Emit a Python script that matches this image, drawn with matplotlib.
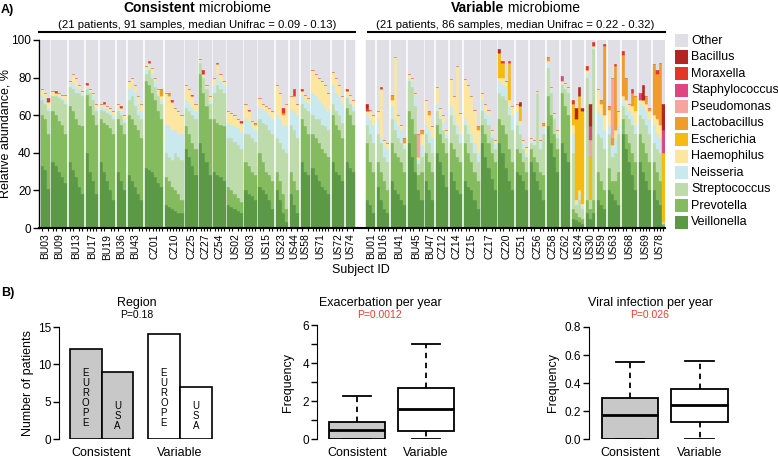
import matplotlib
matplotlib.use("Agg")
import matplotlib.pyplot as plt
from matplotlib.patches import Rectangle
from matplotlib.lines import Line2D
from matplotlib.transforms import blended_transform_factory
import numpy as np

plt.rcParams["font.family"] = ["Liberation Sans", "DejaVu Sans"]

# ---------------- data: panel A (relative abundance per sample, %) ----------------
consistent_ids = ["BU03", "BU09", "BU13", "BU17", "BU19", "BU36", "BU43", "CZ01", "CZ10", "CZ25", "CZ27",
                  "CZ54", "US02", "US03", "US15", "US23", "US44", "US58", "US71", "US72", "US74"]
variable_ids = ["BU01", "BU16", "BU41", "BU45", "BU47", "CZ12", "CZ14", "CZ15", "CZ17", "CZ20", "CZ51",
                "CZ56", "CZ58", "CZ62", "US24", "US30", "US59", "US63", "US68", "US69", "US78"]

veillonella = {
    "BU03": [33, 31, 21], "BU09": [35, 33, 30, 27, 24], "BU13": [35, 31, 27, 22, 18], "BU17": [40, 30, 25, 18],
    "BU19": [35, 30, 25, 20, 15], "BU36": [30, 25, 20], "BU43": [28, 25, 22, 18, 15], "CZ01": [32, 31, 30, 27, 24, 22],
    "CZ10": [12, 11, 10, 9, 8, 8], "CZ25": [42, 38, 33, 28], "CZ27": [45, 40, 35, 28], "CZ54": [30, 28, 27, 25],
    "US02": [12, 11, 10, 9, 8], "US03": [20, 18, 17, 15], "US15": [22, 20, 18, 15, 10], "US23": [20, 15, 8, 3],
    "US44": [18, 12, 8], "US58": [35, 30, 28], "US71": [32, 28, 25, 22, 20, 18], "US72": [35, 30, 28, 25],
    "US74": [35, 32, 30],
    "BU01": [15, 12, 8], "BU16": [22, 15, 10, 8], "BU41": [25, 20, 18, 15, 12], "BU45": [45, 38, 30, 20, 15],
    "BU47": [25, 20, 15], "CZ12": [40, 35, 28, 22], "CZ14": [30, 25, 20, 18], "CZ15": [25, 22, 20, 15, 10],
    "CZ17": [45, 38, 32, 26, 20], "CZ20": [45, 40, 32, 25, 20], "CZ51": [30, 28, 25, 20], "CZ56": [35, 30, 25, 20, 15],
    "CZ58": [54, 45, 38, 30], "CZ62": [45, 40, 35], "US24": [5, 4, 3, 2], "US30": [8, 5, 8], "US59": [15, 12, 10],
    "US63": [20, 18, 15, 12], "US68": [50, 42, 35, 28, 20], "US69": [35, 30, 25, 20], "US78": [20, 15, 12, 1],
}
prevotella = {
    "BU03": [27, 27, 29], "BU09": [27, 27, 27, 28, 26], "BU13": [30, 31, 31, 33, 36], "BU17": [31, 35, 35, 37],
    "BU19": [23, 26, 30, 33, 35], "BU36": [28, 30, 30], "BU43": [32, 33, 33, 34, 33], "CZ01": [46, 45, 42, 41, 38, 36],
    "CZ10": [15, 14, 12, 11, 10, 7], "CZ25": [12, 12, 12, 14], "CZ27": [37, 32, 30, 30], "CZ54": [28, 28, 28, 29],
    "US02": [10, 9, 8, 7, 6], "US03": [15, 15, 13, 13], "US15": [18, 15, 12, 13, 15], "US23": [10, 10, 10, 7],
    "US44": [12, 13, 12], "US58": [23, 24, 22], "US71": [18, 20, 20, 20, 20, 20], "US72": [25, 25, 24, 23],
    "US74": [29, 28, 25],
    "BU01": [30, 23, 22], "BU16": [13, 15, 15, 12], "BU41": [20, 20, 20, 20, 18], "BU45": [17, 20, 20, 8, 15],
    "BU47": [15, 15, 15], "CZ12": [15, 15, 17, 18], "CZ14": [15, 17, 18, 17], "CZ15": [20, 18, 15, 15, 15],
    "CZ17": [10, 12, 13, 14, 15], "CZ20": [13, 15, 18, 17, 15], "CZ51": [12, 12, 10, 10], "CZ56": [7, 8, 10, 10, 13],
    "CZ58": [16, 15, 12, 12], "CZ62": [27, 25, 25], "US24": [5, 4, 3, 3], "US30": [7, 5, 7], "US59": [15, 13, 10],
    "US63": [12, 7, 10, 18], "US68": [8, 8, 10, 12, 15], "US69": [15, 15, 15, 15], "US78": [15, 15, 13, 1],
}
streptococcus = {
    "BU03": [8, 8, 12], "BU09": [8, 10, 12, 13, 16], "BU13": [10, 12, 14, 17, 16], "BU17": [3, 7, 8, 7],
    "BU19": [5, 6, 6, 7, 8], "BU36": [4, 5, 6], "BU43": [8, 12, 10, 8, 10], "CZ01": [4, 8, 8, 7, 8, 8],
    "CZ10": [13, 13, 14, 20, 20, 21], "CZ25": [10, 12, 15, 16], "CZ27": [6, 8, 9, 8], "CZ54": [14, 20, 19, 18],
    "US02": [26, 28, 28, 28, 28], "US03": [15, 17, 18, 18], "US15": [18, 21, 25, 24, 25], "US23": [18, 20, 24, 30],
    "US44": [25, 27, 28], "US58": [8, 10, 12], "US71": [10, 10, 13, 13, 14, 14], "US72": [6, 7, 8, 8],
    "US74": [5, 6, 7],
    "BU01": [10, 15, 15], "BU16": [15, 15, 13, 15], "BU41": [13, 12, 10, 10, 12], "BU45": [16, 17, 15, 6, 8],
    "BU47": [10, 10, 10], "CZ12": [7, 8, 7, 8], "CZ14": [15, 13, 12, 10], "CZ15": [10, 10, 10, 10, 10],
    "CZ17": [7, 8, 10, 8, 7], "CZ20": [14, 15, 18, 18, 17], "CZ51": [13, 10, 7, 8], "CZ56": [3, 6, 37, 12, 22],
    "CZ58": [15, 12, 8, 6], "CZ62": [4, 9, 12], "US24": [30, 4, 9, 5], "US30": [65, 5, 80], "US59": [20, 23, 22],
    "US63": [18, 13, 15, 20], "US68": [7, 10, 13, 15, 15], "US69": [10, 13, 15, 15], "US78": [10, 12, 15, 1],
}
neisseria = {
    "BU03": [3, 3, 2], "BU09": [1, 1, 1, 1, 2], "BU13": [2, 3, 3, 2, 2], "BU17": [1, 1, 2, 2],
    "BU19": [2, 2, 2, 2, 2], "BU36": [2, 2, 2], "BU43": [6, 6, 7, 6, 4], "CZ01": [2, 2, 2, 3, 2, 2],
    "CZ10": [15, 17, 16, 12, 12, 14], "CZ25": [4, 4, 4, 4], "CZ27": [1, 1, 1, 2], "CZ54": [4, 6, 4, 4],
    "US02": [8, 7, 8, 9, 9], "US03": [8, 7, 6, 6], "US15": [6, 7, 7, 8, 8], "US23": [12, 13, 13, 14],
    "US44": [8, 10, 12], "US58": [4, 4, 4], "US71": [12, 12, 10, 11, 10, 10], "US72": [10, 10, 10, 10],
    "US74": [2, 2, 3],
    "BU01": [5, 8, 10], "BU16": [8, 3, 6, 7], "BU41": [7, 6, 7, 7, 2], "BU45": [2, 3, 5, 2, 6],
    "BU47": [5, 7, 8], "CZ12": [4, 2, 4, 2], "CZ14": [5, 5, 5, 5], "CZ15": [3, 5, 5, 5, 5],
    "CZ17": [6, 4, 5, 2, 3], "CZ20": [6, 6, 7, 5, 8], "CZ51": [7, 5, 3, 2], "CZ56": [2, 2, 0, 4, 3],
    "CZ58": [3, 2, 2, 2], "CZ62": [1, 2, 2], "US24": [10, 2, 3, 2], "US30": [2, 0, 1], "US59": [12, 12, 10],
    "US63": [5, 6, 8, 5], "US68": [3, 5, 4, 5, 5], "US69": [6, 7, 7, 8], "US78": [10, 8, 8, 0],
}
haemophilus = {
    "BU03": [3, 3, 3], "BU09": [2, 1, 2, 2, 3], "BU13": [1, 5, 5, 2, 1], "BU17": [1, 1, 2, 2],
    "BU19": [1, 2, 2, 2, 2], "BU36": [2, 2, 2], "BU43": [4, 4, 4, 4, 4], "CZ01": [2, 2, 3, 2, 2, 2],
    "CZ10": [17, 15, 15, 12, 12, 10], "CZ25": [8, 8, 6, 4], "CZ27": [1, 1, 1, 2], "CZ54": [4, 5, 4, 2],
    "US02": [6, 6, 6, 5, 5], "US03": [8, 5, 3, 3], "US15": [5, 3, 3, 4, 4], "US23": [16, 14, 5, 12],
    "US44": [7, 8, 6], "US58": [3, 3, 3], "US71": [12, 12, 12, 12, 12, 10], "US72": [7, 8, 6, 4],
    "US74": [2, 3, 3],
    "BU01": [2, 4, 5], "BU16": [4, 26, 3, 3], "BU41": [3, 33, 5, 3, 1], "BU45": [2, 2, 2, 2, 6],
    "BU47": [13, 8, 6], "CZ12": [9, 4, 4, 2], "CZ14": [14, 10, 31, 11], "CZ15": [21, 21, 20, 18, 12],
    "CZ17": [4, 4, 3, 2, 2], "CZ20": [2, 4, 3, 3, 5], "CZ51": [4, 2, 2, 3], "CZ56": [1, 1, 1, 1, 1],
    "CZ58": [1, 1, 1, 2], "CZ62": [1, 1, 1], "US24": [5, 1, 2, 1], "US30": [2, 0, 1], "US59": [12, 6, 8],
    "US63": [8, 0, 4, 7], "US68": [2, 3, 4, 5, 7], "US69": [2, 3, 4, 4], "US78": [5, 8, 7, 0],
}
# rarer taxa: only patients where they show up
escherichia = {"CZ20": [13, 8, 0, 20, 0], "CZ51": [0, 8, 0, 0], "US24": [11, 43, 50, 49], "US30": [0, 23, 0],
               "US68": [0, 0, 0, 0, 8], "US78": [0, 0, 0, 37]}
lactobacillus = {"CZ01": [0, 0, 0, 0, 0, 4], "CZ10": [0, 2, 0, 0, 0, 0], "US03": [0, 0, 0, 1], "US23": [0, 0, 1, 0],
                 "BU01": [0, 1, 0], "BU41": [3, 0, 0, 0, 3], "BU45": [0, 0, 0, 0, 2], "BU47": [0, 2, 0],
                 "CZ15": [0, 0, 0, 0, 2], "CZ56": [0, 0, 0, 0, 2], "CZ58": [2, 0, 0, 0], "US59": [0, 2, 37],
                 "US63": [2, 4, 34, 0], "US68": [22, 12, 0, 7, 0], "US69": [0, 0, 4, 2], "US78": [27, 24, 33, 0]}
pseudomonas = {"BU45": [0, 0, 0, 12, 0], "US30": [0, 9, 0], "US63": [0, 32, 0, 0]}
staphylococcus = {"CZ62": [3, 0, 0], "US30": [0, 7, 0], "US69": [4, 0, 0, 0], "US78": [0, 0, 0, 12]}
moraxella = {"BU03": [0, 0, 2], "BU09": [0, 1, 0, 0, 0], "BU17": [1, 0, 0, 0], "BU19": [0, 1, 0, 0, 0],
             "BU36": [0, 1, 0], "CZ01": [0, 1, 0, 0, 0, 0], "CZ10": [0, 0, 1, 0, 0, 0], "CZ25": [0, 0, 1, 0],
             "CZ27": [0, 2, 0, 0], "CZ54": [0, 1, 0, 0], "US02": [0, 0, 0, 0, 1], "US03": [0, 1, 0, 0],
             "US23": [0, 0, 3, 0], "US44": [0, 4, 0], "US58": [1, 0, 0], "US74": [1, 0, 0],
             "BU01": [2, 0, 0], "BU16": [0, 1, 0, 0], "CZ20": [0, 1, 0, 1, 0], "US24": [2, 0, 0, 0],
             "US30": [2, 0, 2], "US59": [0, 0, 1], "US63": [0, 0, 1, 0], "US68": [2, 0, 0, 2, 0], "US78": [0, 2, 0, 0]}
bacillus = {"BU01": [2, 0, 0], "CZ20": [2, 0, 0, 0, 0], "CZ51": [0, 2, 0, 0], "US24": [0, 6, 5, 2],
            "US30": [0, 12, 0], "US69": [0, 8, 0, 0], "US78": [0, 0, 0, 14]}

# ---------------- data: panel B ----------------
region_groups = ["Consistent", "Consistent", "Variable", "Variable"]
region_names = ["EUROPE", "USA", "EUROPE", "USA"]
region_counts = [12, 9, 14, 7]

# whislo, q1, median, q3, whishi
exac_consistent = [0, 0, 0.47, 0.9, 2.25]
exac_variable = [0, 0.4, 1.58, 2.68, 5.0]
viral_consistent = [0, 0, 0.17, 0.29, 0.55]
viral_variable = [0, 0.12, 0.24, 0.36, 0.56]

# ---------------- styling ----------------
taxa = [  # bottom to top
    ("Veillonella", veillonella, "#5b9946"),
    ("Prevotella", prevotella, "#84bb5f"),
    ("Streptococcus", streptococcus, "#bedcab"),
    ("Neisseria", neisseria, "#c9e9ef"),
    ("Haemophilus", haemophilus, "#fde7a0"),
    ("Escherichia", escherichia, "#f6ba12"),
    ("Lactobacillus", lactobacillus, "#f09c2d"),
    ("Pseudomonas", pseudomonas, "#f6a4a0"),
    ("Staphylococcus", staphylococcus, "#df4580"),
    ("Moraxella", moraxella, "#e33627"),
    ("Bacillus", bacillus, "#b3261f"),
]
OTHER_COLOR = "#dfdfe5"
GREY = "#c8c8c8"
PVAL_RED = "#e0402e"

W, H = 778, 458
fig = plt.figure(figsize=(W / 100, H / 100), dpi=100)


def add_ax(left, top, right, bottom):
    return fig.add_axes([left / W, 1 - bottom / H, (right - left) / W, (bottom - top) / H])


def ftext(x, y, s, **kw):
    return fig.text(x / W, 1 - y / H, s, **kw)


# ---------------- panel A ----------------
ax = add_ax(39, 40, 665, 228)
PATIENT_GAP = 0.55
GROUP_GAP = 3.6
x = 0.0
centers, sample_x, group_spans = [], [], []
for ids in (consistent_ids, variable_ids):
    start = x
    for pid in ids:
        n = len(veillonella[pid])
        xs = x + np.arange(n)
        bottom = np.zeros(n)
        for name, table, color in taxa:
            vals = np.array(table.get(pid, [0] * n), dtype=float)
            ax.bar(xs, vals, width=1, bottom=bottom, align="edge", color=color,
                   edgecolor=color, linewidth=0.3)
            bottom += vals
        ax.bar(xs, 100 - bottom, width=1, bottom=bottom, align="edge", color=OTHER_COLOR,
               edgecolor=OTHER_COLOR, linewidth=0.3)
        centers.append(x + n / 2)
        sample_x.extend(xs + 0.5)
        x += n + PATIENT_GAP
    group_spans.append((start, x - PATIENT_GAP))
    x += GROUP_GAP - PATIENT_GAP
x_end = group_spans[-1][1]

ax.set_xlim(-0.5, x_end)
ax.set_ylim(0, 100)
ax.set_yticks([0, 20, 40, 60, 80, 100])
ax.set_xticks(centers)
ax.set_xticklabels(consistent_ids + variable_ids, rotation=90, fontsize=7.5)
ax.set_xticks(sample_x, minor=True)
ax.tick_params(axis="x", which="major", length=0, pad=4)
ax.tick_params(axis="x", which="minor", length=2.5, width=0.8)
ax.tick_params(axis="y", length=4, width=1, labelsize=8.5, pad=1.5)
for side in ("top", "right"):
    ax.spines[side].set_visible(False)
ax.spines["bottom"].set_linewidth(1.5)
ax.spines["left"].set_linewidth(1)

# group headers
tr = blended_transform_factory(ax.transData, ax.transAxes)
headers = [("Consistent", "(21 patients, 91 samples, median Unifrac = 0.09 - 0.13)", -0.5),
           ("Variable", "(21 patients, 86 samples, median Unifrac = 0.22 - 0.32)", None)]
renderer = fig.canvas.get_renderer()
for (bold, sub, left_override), (g0, g1) in zip(headers, group_spans):
    left = g0 if left_override is None else left_override
    ax.plot([left + 0.8 if left_override is None else left, g1], [1.043, 1.043], transform=tr,
            color="black", lw=1.5, clip_on=False)
    xc_px = ax.transData.transform(((left + g1) / 2, 0))[0]
    t1 = ftext(0, 8, bold, fontsize=10, fontweight="bold", va="center")
    t2 = ftext(0, 8, " microbiome", fontsize=10, va="center")
    w1 = t1.get_window_extent(renderer).width
    w2 = t2.get_window_extent(renderer).width
    x0 = xc_px - (w1 + w2) / 2
    t1.set_x(x0 / W)
    t2.set_x((x0 + w1) / W)
    ftext(xc_px, 24.5, sub, fontsize=8.2, ha="center", va="center")

ftext(1, 10, "A)", fontsize=9, fontweight="bold", va="center")
ftext(6, 134, "Relative abundance, %", fontsize=9, rotation=90, ha="center", va="center")
ftext(361, 270, "Subject ID", fontsize=9, ha="center", va="center")

# legend (top to bottom)
for i, (name, color) in enumerate([("Other", OTHER_COLOR)] + [(n, c) for n, _, c in taxa[::-1]]):
    yc = 40.5 + i * 16.5
    fig.add_artist(Rectangle((675 / W, 1 - (yc + 6.5) / H), 13 / W, 13 / H, transform=fig.transFigure,
                             facecolor=color, edgecolor="none"))
    ftext(691, yc, name, fontsize=9, va="center")

# ---------------- panel B: region ----------------
ftext(1, 293, "B)", fontsize=9, fontweight="bold", va="center")
ax1 = add_ax(59, 327, 215, 439)
region_pos = [0, 1, 2.45, 3.45]
region_fill = [GREY if g == "Consistent" else "white" for g in region_groups]
ax1.bar(region_pos, region_counts, width=1, color=region_fill, edgecolor="black", linewidth=1.2)
label_y = {"EUROPE": 5.5, "USA": 3.1}
for p, name in zip(region_pos, region_names):
    ax1.text(p, label_y[name], "\n".join(name), ha="center", va="center", fontsize=7, linespacing=1.0)
ax1.set_xlim(-0.83, 4.05)
ax1.set_ylim(0, 15)
ax1.set_yticks([0, 5, 10, 15])
ax1.set_xticks([0.5, 2.95])
ax1.set_xticklabels(["Consistent", "Variable"], fontsize=9)
ax1.tick_params(axis="x", length=0, pad=6)
ax1.tick_params(axis="y", length=4, width=1, labelsize=8.5, pad=1.5)
for side in ("top", "right", "bottom"):
    ax1.spines[side].set_visible(False)
ax1.spines["left"].set_position(("outward", 0))
ftext(137, 303, "Region", fontsize=9, ha="center", va="center")
ftext(137, 315, "P=0.18", fontsize=7.5, ha="center", va="center")
ftext(28, 383, "Number of patients", fontsize=9, rotation=90, ha="center", va="center")


# ---------------- panel B: box plots ----------------
def box_panel(box, ylim, yticks, yticklabels, cons, var, title, pval, title_x, ylabel_x):
    bax = add_ax(*box)
    stats = [dict(whislo=v[0], q1=v[1], med=v[2], q3=v[3], whishi=v[4], fliers=[]) for v in (cons, var)]
    parts = bax.bxp(stats, positions=[1, 2], widths=0.81, patch_artist=True, showfliers=False,
                    boxprops=dict(edgecolor="black", linewidth=1.3),
                    whiskerprops=dict(color="black", linewidth=1.3, linestyle=(0, (3, 2.5))),
                    capprops=dict(color="black", linewidth=1.3),
                    medianprops=dict(color="black", linewidth=2))
    parts["boxes"][0].set_facecolor(GREY)
    parts["boxes"][1].set_facecolor("white")
    bax.set_xlim(0.414, 2.58)
    bax.set_ylim(*ylim)
    bax.set_yticks(yticks)
    bax.set_yticklabels(yticklabels)
    bax.set_xticks([1, 2])
    bax.set_xticklabels(["Consistent", "Variable"], fontsize=9)
    bax.tick_params(axis="x", length=0, pad=6)
    bax.tick_params(axis="y", length=4, width=1, labelsize=8.5, pad=1.5)
    for side in ("top", "right", "bottom"):
        bax.spines[side].set_visible(False)
    ftext(title_x, 303, title, fontsize=9, ha="center", va="center")
    ftext(title_x, 315, pval, fontsize=7.5, ha="center", va="center", color=PVAL_RED)
    ftext(ylabel_x, 383, "Frequency", fontsize=9, rotation=90, ha="center", va="center")
    return bax


box_panel((317, 325, 466, 439), (0, 6), range(7), ["0", "", "2", "", "4", "", "6"],
          exac_consistent, exac_variable, "Exacerbation per year", "P=0.0012", 380, 288)
box_panel((589, 327, 740, 439), (0, 0.8), [0, 0.2, 0.4, 0.6, 0.8], ["0.0", "0.2", "0.4", "0.6", "0.8"],
          viral_consistent, viral_variable, "Viral infection per year", "P=0.026", 650, 553)

fig.savefig("out.png", dpi=100)
